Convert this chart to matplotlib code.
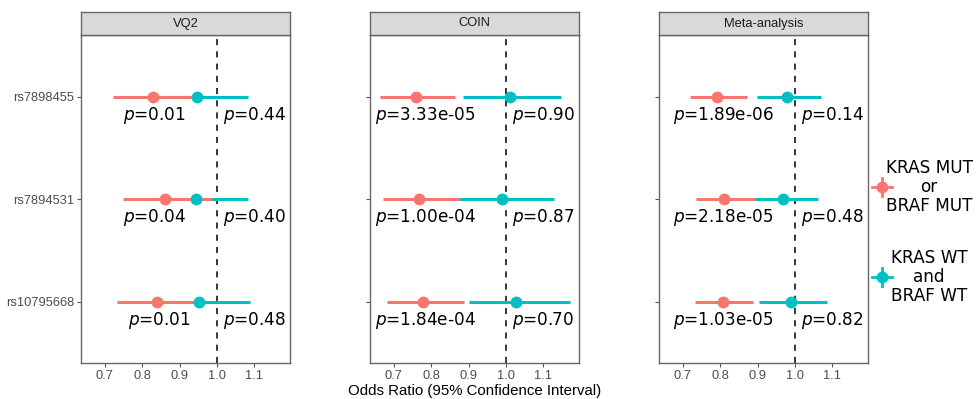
import numpy as np
import matplotlib
matplotlib.use("Agg")
from matplotlib import pyplot as plt
from matplotlib.lines import Line2D

plt.rcParams["mathtext.fontset"] = "dejavusans"

# studies (facets) and SNPs (rows, top to bottom)
studies = ["VQ2", "COIN", "Meta-analysis"]
snps = ["rs7898455", "rs7894531", "rs10795668"]

# KRAS/BRAF mutant: odds ratio, lower and upper 95% CI, per study x snp
mut_or = [[0.830, 0.860, 0.840],
          [0.759, 0.768, 0.778],
          [0.792, 0.811, 0.809]]
mut_lo = [[0.722, 0.750, 0.733],
          [0.665, 0.673, 0.682],
          [0.719, 0.736, 0.734]]
mut_hi = [[0.955, 0.986, 0.963],
          [0.864, 0.877, 0.888],
          [0.871, 0.893, 0.889]]
mut_p = [["0.01", "0.04", "0.01"],
         ["3.33e-05", "1.00e-04", "1.84e-04"],
         ["1.89e-06", "2.18e-05", "1.03e-05"]]

# KRAS/BRAF wild type
wt_or = [[0.948, 0.945, 0.953],
         [1.011, 0.990, 1.028],
         [0.979, 0.968, 0.989]]
wt_lo = [[0.830, 0.825, 0.834],
         [0.886, 0.869, 0.902],
         [0.898, 0.883, 0.903]]
wt_hi = [[1.084, 1.083, 1.089],
         [1.148, 1.128, 1.170],
         [1.070, 1.061, 1.085]]
wt_p = [["0.44", "0.40", "0.48"],
        ["0.90", "0.87", "0.70"],
        ["0.14", "0.48", "0.82"]]

xticks = [0.7, 0.8, 0.9, 1.0, 1.1]

red = "#F8766D"
cyan = "#00BFC4"
tick_col = "#4D4D4D"
border_col = "#666666"

# where the p-value text sits on the odds-ratio axis
mut_label_x = [[0.832, 0.834, 0.846], [0.786, 0.786, 0.786], [0.81, 0.81, 0.81]]
wt_label_x = 1.016

fig = plt.figure(figsize=(9.76, 3.99), dpi=100)
W, H = 976.0, 399.0
panel_left = [81, 370, 659]
panel_w = 209
panel_top, panel_bot = 35, 363
strip_top = 12

ypos = np.arange(1, len(snps) + 1)

for k, study in enumerate(studies):
    ax = fig.add_axes([panel_left[k] / W, (H - panel_bot) / H,
                       panel_w / W, (panel_bot - panel_top) / H])
    ax.set_xlim(0.637, 1.195)
    ax.set_ylim(3.6, 0.4)
    ax.axvline(1.0, color="black", lw=1.1, linestyle=(0, (4, 4)), zorder=1)

    # wild-type ranges first, mutant ranges over them, then the points
    ax.hlines(ypos, wt_lo[k], wt_hi[k], color=cyan, lw=2.2, zorder=2)
    ax.hlines(ypos, mut_lo[k], mut_hi[k], color=red, lw=2.2, zorder=3)
    ax.plot(mut_or[k], ypos, "o", color=red, ms=7.5, zorder=4)
    ax.plot(wt_or[k], ypos, "o", color=cyan, ms=7.5, zorder=5)

    for i in range(len(snps)):
        ax.text(mut_label_x[k][i], ypos[i] + 0.225, "$p$=" + mut_p[k][i],
                ha="center", va="baseline", fontsize=12.2,
                family="DejaVu Sans", zorder=6)
        ax.text(wt_label_x, ypos[i] + 0.225, "$p$=" + wt_p[k][i],
                ha="left", va="baseline", fontsize=12.2,
                family="DejaVu Sans", zorder=6)

    ax.set_yticks(ypos)
    if k == 0:
        ax.set_yticklabels(snps, fontsize=9.3, color=tick_col,
                           family="Liberation Sans")
    else:
        ax.set_yticklabels([])
    ax.set_xticks(xticks)
    ax.set_xticklabels([f"{t:.1f}" for t in xticks], fontsize=9.3,
                       color=tick_col, family="Liberation Sans")
    ax.tick_params(length=3, width=0.8, color="#555555", pad=2)
    for s in ax.spines.values():
        s.set_color(border_col)
        s.set_linewidth(1.0)

    # facet strip
    sax = fig.add_axes([panel_left[k] / W, (H - panel_top) / H,
                        panel_w / W, (panel_top - strip_top) / H])
    sax.set_xticks([])
    sax.set_yticks([])
    sax.set_facecolor("#D9D9D9")
    for s in sax.spines.values():
        s.set_color(border_col)
        s.set_linewidth(1.0)
    sax.text(0.5, 0.5, study, ha="center", va="center", fontsize=9.3,
             color="#1A1A1A", family="Liberation Sans",
             transform=sax.transAxes)

fig.text(474.5 / W, 15.5 / H, "Odds Ratio (95% Confidence Interval)",
         ha="center", va="top", fontsize=10.8, family="Liberation Sans")

# legend: point with a cross for each group
legend_items = [("KRAS MUT\nor\nBRAF MUT", red, 187),
                ("KRAS WT\nand\nBRAF WT", cyan, 277)]
for label, col, yc in legend_items:
    xk = 882
    fig.add_artist(Line2D([(xk - 10) / W, (xk + 10) / W], [(H - yc) / H] * 2,
                          color=col, lw=2.0, transform=fig.transFigure))
    fig.add_artist(Line2D([xk / W] * 2, [(H - yc - 9) / H, (H - yc + 9) / H],
                          color=col, lw=2.0, transform=fig.transFigure))
    fig.add_artist(Line2D([xk / W], [(H - yc) / H], marker="o", ms=7.5,
                          color=col, transform=fig.transFigure))
    fig.text(929 / W, (H - yc) / H, label, ha="center", va="center",
             multialignment="center", fontsize=12.2, linespacing=1.1,
             family="DejaVu Sans")

fig.savefig("out.png", dpi=100)
